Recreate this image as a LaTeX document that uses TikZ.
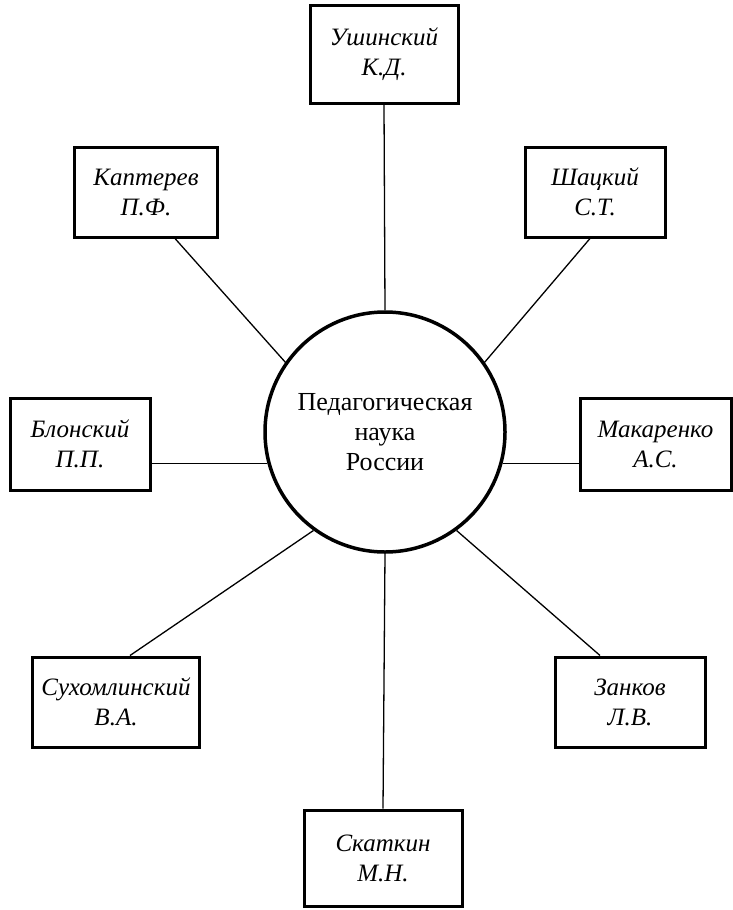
\documentclass[tikz,border=0pt]{standalone}
\usepackage{fontspec}
\setmainfont{Liberation Serif}
\usetikzlibrary{calc}
\begin{document}
\begin{tikzpicture}[x=1pt,y=-1pt,
  namebox/.style={draw, line width=3pt, rectangle, align=center, inner sep=2pt,
    font=\fontsize{25}{30}\selectfont\itshape},
  link/.style={line width=1.3pt}]
\useasboundingbox (0,0) rectangle (732,910);
\fill[white] (0,0) rectangle (732,910);
\node[draw, circle, line width=3.5pt, minimum size=240pt, align=center,
  font=\fontsize{26}{30}\selectfont] (c) at (385,432) {Педагогическая\\наука\\России};
\node[namebox, minimum width=148pt, minimum height=98pt] (ush) at (384,54) {Ушинский\\К.Д.};
\node[namebox, minimum width=143pt, minimum height=90pt] (kap) at (146,192) {Каптерев\\П.Ф.};
\node[namebox, minimum width=140pt, minimum height=90pt] (sha) at (595,192) {Шацкий\\С.Т.};
\node[namebox, minimum width=140pt, minimum height=92pt] (blo) at (80,444) {Блонский\\П.П.};
\node[namebox, minimum width=151pt, minimum height=92pt] (mak) at (655.5,444) {Макаренко\\А.С.};
\node[namebox, minimum width=167pt, minimum height=90pt] (suh) at (116,702) {Сухомлинский\\В.А.};
\node[namebox, minimum width=150pt, minimum height=90pt] (zan) at (630,702) {Занков\\Л.В.};
\node[namebox, minimum width=158pt, minimum height=96pt] (ska) at (383,858) {Скаткин\\М.Н.};
\draw[link] (ush.south) -- (c.north);
\draw[link] ($(kap.south)+(29,0)$) -- (c.145);
\draw[link] ($(sha.south)+(-5,0)$) -- (c.35);
\draw[link] (c.195) -- (c.195 -| blo.east);
\draw[link] (c.-15) -- (c.-15 -| mak.west);
\draw[link] ($(suh.north)+(14,0)$) -- (c.234);
\draw[link] ($(zan.north)+(-30,0)$) -- (c.306);
\draw[link] (c.south) -- (ska.north);
\end{tikzpicture}
\end{document}
